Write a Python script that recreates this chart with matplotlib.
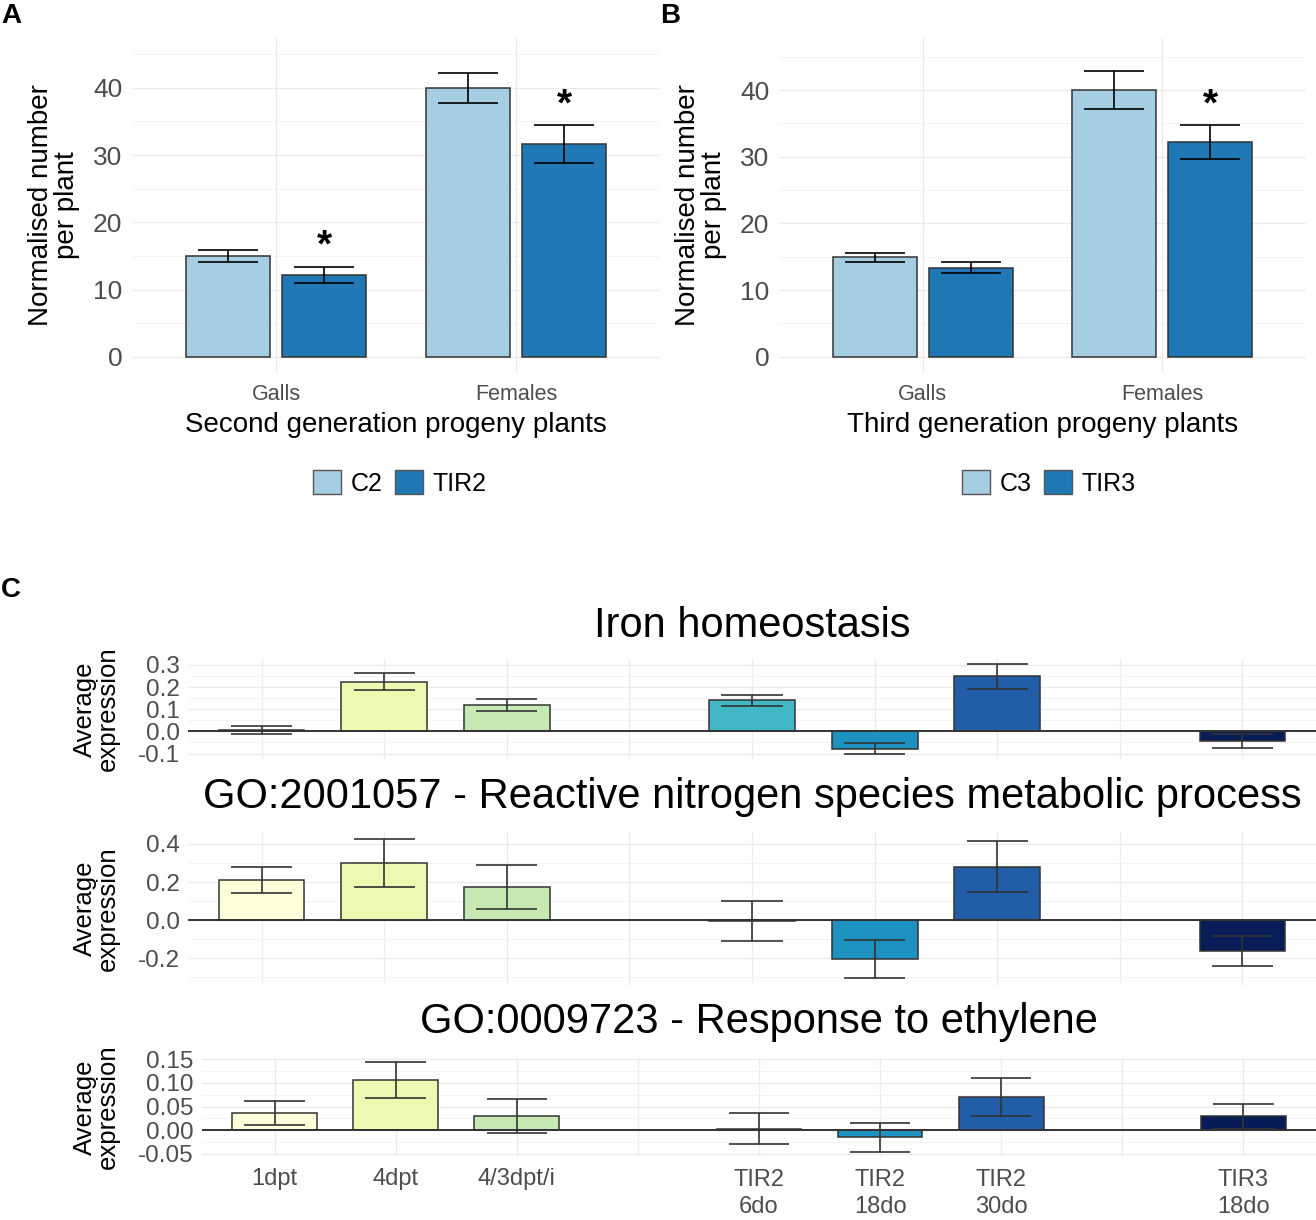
import numpy as np
import matplotlib
matplotlib.use("Agg")
import matplotlib.pyplot as plt
from matplotlib.patches import Patch

plt.rcParams['font.family'] = ['Liberation Sans', 'DejaVu Sans']

# ---- data: panels A and B (nematode counts) ----
cats_ab = ["Galls", "Females"]

a_ctrl = [15.0, 40.0]
a_ctrl_se = [0.87, 2.2]
a_tir = [12.2, 31.6]
a_tir_se = [1.23, 2.8]
a_sig = [True, True]

b_ctrl = [14.9, 39.95]
b_ctrl_se = [0.7, 2.85]
b_tir = [13.35, 32.2]
b_tir_se = [0.85, 2.5]
b_sig = [False, True]

# ---- data: panel C (average expression per GO term) ----
c_labels = ["1dpt", "4dpt", "4/3dpt/i", "", "TIR2\n6do", "TIR2\n18do",
            "TIR2\n30do", "", "TIR3\n18do"]
nan = np.nan
iron_mean = [0.006, 0.225, 0.12, nan, 0.14, -0.079, 0.249, nan, -0.042]
iron_se = [0.019, 0.037, 0.028, nan, 0.0255, 0.025, 0.0575, nan, 0.031]
rns_mean = [0.212, 0.301, 0.175, nan, -0.004, -0.204, 0.281, nan, -0.16]
rns_se = [0.067, 0.125, 0.117, nan, 0.107, 0.099, 0.1345, nan, 0.078]
eth_mean = [0.037, 0.105, 0.0295, nan, 0.0035, -0.0145, 0.07, nan, 0.0295]
eth_se = [0.025, 0.038, 0.0355, nan, 0.0335, 0.0305, 0.04, nan, 0.0265]

# colours
PAIRED = ['#a6cee3', '#1f78b4']
YLGNBU = ['#ffffd9', '#edf8b1', '#c7e9b4', '#7fcdbb', '#41b6c4',
          '#1d91c0', '#225ea8', '#253494', '#081d58']
GRID_MAJ = '#ebebeb'
GRID_MIN = '#f3f3f3'
TICK_COL = '#4d4d4d'
EDGE = '#333333'

W, H = 1316, 1220
fig = plt.figure(figsize=(W / 100, H / 100), dpi=100)


def add_px_axes(left, top, right, bottom):
    return fig.add_axes([left / W, 1 - bottom / H, (right - left) / W, (bottom - top) / H])


def style_axes(ax):
    for s in ax.spines.values():
        s.set_visible(False)
    ax.tick_params(which='both', length=0, labelcolor=TICK_COL)
    ax.set_axisbelow(True)
    ax.grid(True, which='major', color=GRID_MAJ, lw=1.0)
    ax.grid(True, which='minor', axis='y', color=GRID_MIN, lw=0.7)


def progeny_panel(left, right, ctrl, ctrl_se, tir, tir_se, sig, ylim, xlabel, names, legend_x):
    ax = add_px_axes(left, 38, right, 372)
    style_axes(ax)
    x = np.arange(1, len(cats_ab) + 1)
    for offs, m, se, col in [(-0.2, ctrl, ctrl_se, PAIRED[0]), (0.2, tir, tir_se, PAIRED[1])]:
        m = np.array(m)
        se = np.array(se)
        ax.bar(x + offs, m, width=0.35, color=col, edgecolor=EDGE, lw=1.1, zorder=2)
        ax.vlines(x + offs, m - se, m + se, color='black', lw=1.2, zorder=3)
        ax.hlines(m - se, x + offs - 0.125, x + offs + 0.125, color='black', lw=1.2, zorder=3)
        ax.hlines(m + se, x + offs - 0.125, x + offs + 0.125, color='black', lw=1.2, zorder=3)
    # significance stars above the treated bars
    for xi, m, se, s in zip(x, tir, tir_se, sig):
        if s:
            ax.text(xi + 0.2, m + se + 3.0, '*', ha='center', va='center',
                    fontsize=28, fontweight='bold')
    ax.set_xlim(0.4, 2.6)
    ax.set_ylim(ylim)
    ax.set_yticks([0, 10, 20, 30, 40])
    ax.set_yticks([5, 15, 25, 35, 45], minor=True)
    ax.set_xticks(x, cats_ab)
    ax.tick_params(axis='x', labelsize=15.5, pad=9)
    ax.tick_params(axis='y', labelsize=19, pad=7)
    ax.set_xlabel(xlabel, fontsize=20, labelpad=5)
    ax.set_ylabel("Normalised number\nper plant", fontsize=20, labelpad=9, linespacing=1.0)
    handles = [Patch(facecolor=PAIRED[i], edgecolor='#555555', lw=1.0, label=names[i]) for i in range(2)]
    fig.legend(handles=handles, loc='center', bbox_to_anchor=(legend_x / W, 1 - 483 / H),
               ncol=2, frameon=False, fontsize=18, handlelength=1.1, handleheight=1.1,
               handletextpad=0.4, columnspacing=0.5)
    return ax


progeny_panel(132, 660, a_ctrl, a_ctrl_se, a_tir, a_tir_se, a_sig, (-2.25, 47.4),
              "Second generation progeny plants", ["C2", "TIR2"], 400)
progeny_panel(779, 1306, b_ctrl, b_ctrl_se, b_tir, b_tir_se, b_sig, (-2.28, 47.8),
              "Third generation progeny plants", ["C3", "TIR3"], 1049)


def expression_panel(left, top, right, bottom, means, ses, title, title_y, yticks, yminor, fmt, show_x):
    ax = add_px_axes(left, top, right, bottom)
    style_axes(ax)
    pos = np.arange(1, len(c_labels) + 1)
    m = np.array(means)
    s = np.array(ses)
    ok = ~np.isnan(m)
    cols = [c for c, k in zip(YLGNBU, ok) if k]
    ax.bar(pos[ok], m[ok], width=0.7, color=cols, edgecolor=EDGE, lw=1.1, zorder=2)
    ax.axhline(0, color=EDGE, lw=1.4, zorder=2.5)
    ax.vlines(pos[ok], (m - s)[ok], (m + s)[ok], color=EDGE, lw=1.2, zorder=3)
    ax.hlines((m - s)[ok], pos[ok] - 0.25, pos[ok] + 0.25, color=EDGE, lw=1.2, zorder=3)
    ax.hlines((m + s)[ok], pos[ok] - 0.25, pos[ok] + 0.25, color=EDGE, lw=1.2, zorder=3)
    lo = min(0, np.nanmin(m - s))
    hi = max(0, np.nanmax(m + s))
    pad = 0.05 * (hi - lo)
    ax.set_ylim(lo - pad, hi + pad)
    ax.set_xlim(0.4, len(c_labels) + 0.6)
    ax.set_yticks(yticks, [fmt % t for t in yticks])
    ax.set_yticks(yminor, minor=True)
    ax.tick_params(axis='y', labelsize=17.5, pad=6)
    if show_x:
        ax.set_xticks(pos, c_labels)
        ax.tick_params(axis='x', labelsize=17, pad=9)
        for lbl in ax.get_xticklabels():
            lbl.set_linespacing(1.3)
    else:
        ax.set_xticks(pos, [''] * len(pos))
    fig.text((left + right) / 2 / W, 1 - title_y / H, title, fontsize=30,
             ha='center', va='center')
    fig.text(96 / W, 1 - (top + bottom) / 2 / H, "Average\nexpression", fontsize=18.5,
             rotation=90, ha='center', va='center', linespacing=0.95)
    return ax


expression_panel(188, 659, 1316, 759, iron_mean, iron_se, "Iron homeostasis", 626,
                 [-0.1, 0.0, 0.1, 0.2, 0.3], [-0.05, 0.05, 0.15, 0.25], "%.1f", False)
expression_panel(188, 832, 1316, 985, rns_mean, rns_se,
                 "GO:2001057 - Reactive nitrogen species metabolic process", 797,
                 [-0.2, 0.0, 0.2, 0.4], [-0.3, -0.1, 0.1, 0.3], "%.1f", False)
expression_panel(202, 1058, 1316, 1156, eth_mean, eth_se,
                 "GO:0009723 - Response to ethylene", 1022,
                 [-0.05, 0.0, 0.05, 0.10, 0.15], [-0.025, 0.025, 0.075, 0.125], "%.2f", True)

# panel letters
fig.text(1 / W, 1 - 16 / H, "A", fontsize=20, fontweight='bold', va='center', ha='left')
fig.text(660 / W, 1 - 16 / H, "B", fontsize=20, fontweight='bold', va='center', ha='left')
fig.text(1 / W, 1 - 590 / H, "C", fontsize=20, fontweight='bold', va='center', ha='left')

fig.savefig("out.png", dpi=100)
